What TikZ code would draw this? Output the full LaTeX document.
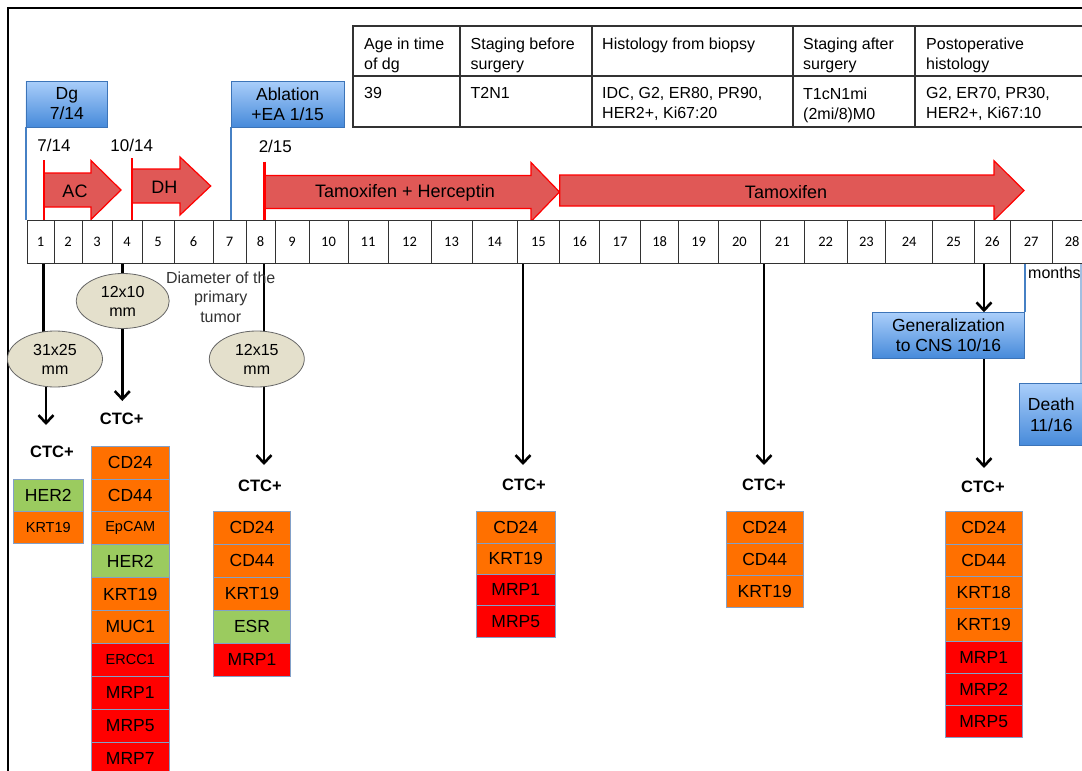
\documentclass[tikz,border=0pt]{standalone}
\usepackage{fontspec}
\setmainfont{Liberation Sans}
\newfontfamily\calib{Carlito}
\usetikzlibrary{arrows.meta,shapes.geometric}
\pgfdeclarelayer{bg}
\pgfdeclarelayer{conn}
\pgfsetlayers{bg,conn,main}
\definecolor{arrfill}{RGB}{224,88,86}
\definecolor{bluetop}{RGB}{170,206,250}
\definecolor{bluebot}{RGB}{70,138,218}
\definecolor{blueedge}{RGB}{60,116,184}
\definecolor{blueline}{RGB}{70,128,196}
\definecolor{cOr}{RGB}{255,112,0}
\definecolor{cGr}{RGB}{155,203,95}
\definecolor{cRd}{RGB}{255,0,0}
\definecolor{genebd}{RGB}{130,160,200}
\definecolor{ellfill}{RGB}{228,224,204}
\definecolor{gridc}{RGB}{50,50,50}
\newcommand\fsz[2]{\fontsize{#1}{#2}\selectfont}
\begin{document}
\begin{tikzpicture}[x=1pt,y=-1pt,
  bluebox/.style={draw=blueedge, line width=0.9pt, top color=bluetop, bottom color=bluebot, align=center, inner sep=0pt, font=\fsz{17.5}{20}},
  cell/.style={draw=gridc, line width=0.9pt, fill=white, minimum height=43, inner sep=0pt, font=\calib\fsz{14.5}{16}},
  gene/.style={draw=genebd, line width=0.8pt, inner sep=0pt},
  orng/.style={fill=cOr}, grn/.style={fill=cGr}, rd/.style={fill=cRd},
  gn/.style={font=\fsz{17.5}{20}}, gs/.style={font=\fsz{14.5}{17}},
  ell/.style={ellipse, draw=black!60, line width=0.8pt, fill=ellfill, minimum width=95, minimum height=56, inner sep=0pt, align=center, font=\fsz{16}{19}},
  ctc/.style={font=\bfseries\fsz{16.5}{19}},
  tabtxt/.style={anchor=north west, inner sep=0pt, align=left, font=\fsz{16}{20}},
  datetxt/.style={font=\fsz{17}{20}},
  redarr/.style={fill=arrfill, draw=red, line width=1.2pt, line join=miter},
  redtick/.style={draw=red, line width=2.5pt},
  arrtxt/.style={font=\fsz{18}{20}},
  conline/.style={line width=2.6pt, black},
  conarr/.style={line width=2.6pt, black, -{Straight Barb[length=8pt,width=15pt]}},
  bline/.style={draw=blueline, line width=2pt}
]
\useasboundingbox (0,0) rectangle (1082,771);
\clip (0,0) rectangle (1082,771);
\begin{pgfonlayer}{bg}
\fill[white] (0,0) rectangle (1082,771);
\end{pgfonlayer}

% frame
\draw[line width=2pt] (8,780) -- (8,8) -- (1090,8);

% table
\draw[gridc, line width=1.1pt] (353,26) rectangle (1095,127);
\draw[gridc, line width=1.1pt] (353,76) -- (1095,76);
\foreach \xx in {460,592,793,915} \draw[gridc, line width=1.1pt] (\xx,26) -- (\xx,127);
\node[tabtxt] (h1) at (364,37.5) {Age in time\\of dg};
\node[tabtxt] (h2) at (470.5,37.5) {Staging before\\surgery};
\node[tabtxt] (h3) at (602,37.5) {Histology from biopsy};
\node[tabtxt] (h4) at (803,37.5) {Staging after\\surgery};
\node[tabtxt] (h5) at (926,37.5) {Postoperative\\histology};
\node[tabtxt] (v1) at (364,87.5) {39};
\node[tabtxt] (v2) at (470.5,87.5) {T2N1};
\node[tabtxt] (v3) at (602,87.5) {IDC, G2, ER80, PR90,\\HER2+, Ki67:20};
\node[tabtxt] (v4) at (803,87.5) {T1cN1mi\\(2mi/8)M0};
\node[tabtxt] (v5) at (926,87.5) {G2, ER70, PR30,\\HER2+, Ki67:10};

% blue event boxes
\node[bluebox, minimum width=81.7, minimum height=46] (dg) at (66.8,104) {Dg\\7/14};
\node[bluebox, minimum width=113.3, minimum height=46] (abl) at (287.7,104) {Ablation\\+EA 1/15};
\node[bluebox, minimum width=151.6, minimum height=45.6] (gen) at (948.5,335.5) {Generalization\\to CNS 10/16};
\node[bluebox, minimum width=64, minimum height=62.4, font=\fsz{17.5}{21}] (death) at (1051.3,414.5) {Death\\11/16};

% dates
\node[datetxt] (d1) at (54,145) {7/14};
\node[datetxt] (d2) at (131.7,145) {10/14};
\node[datetxt] (d3) at (275.3,146) {2/15};

% treatment arrows
\filldraw[redarr] (44,173) -- (91,173) -- (91,160.5) -- (121,190) -- (91,219.5) -- (91,207) -- (44,207) -- cycle;
\draw[redtick] (44,160) -- (44,220);
\node[arrtxt] (tac) at (75,191) {AC};
\filldraw[redarr] (132,169) -- (180,169) -- (180,157) -- (210.7,186) -- (180,215) -- (180,203) -- (132,203) -- cycle;
\draw[redtick] (132,158) -- (132,220);
\node[arrtxt] (tdh) at (164.3,187.5) {DH};
\filldraw[redarr] (264.3,175.5) -- (531,175.5) -- (531,162.5) -- (559.5,192) -- (531,221.5) -- (531,208.5) -- (264.3,208.5) -- cycle;
\draw[redtick] (264.3,161.5) -- (264.3,221);
\node[arrtxt] (tth) at (405,193) {Tamoxifen + Herceptin};
\filldraw[redarr] (559.7,175) -- (994,175) -- (994,160.7) -- (1024,190.5) -- (994,220.3) -- (994,206) -- (559.7,206) -- cycle;
\node[arrtxt] (ttam) at (786,192) {Tamoxifen};

% timeline
\foreach \l/\r [count=\i] in {27/54,54/82,82/112,112/142,142/174,174/213,213/246,246/275,275/309,309/348,348/388,388/431,431/472,472/517,517/559.7,559.7/599.5,599.5/640.6,640.6/678.6,678.6/718.7,718.7/760.2,760.2/804.4,804.4/847,847/885.7,885.7/932.7,932.7/974.5,974.5/1010,1010/1052.3,1052.3/1092}
  \node[cell, minimum width={\r-\l}] (c\i) at ({(\l+\r)/2},241.5) {\i};

\node[anchor=west, inner sep=0pt, font=\fsz{16}{19}] (months) at (1028,273) {months};

% diameter label
\node[align=center, text=black!80, font=\fsz{16}{19.7}] (diam) at (220.7,297) {Diameter of the\\primary\\tumor};

% ellipses
\node[ell] (e1) at (55,359) {31x25\\mm};
\node[ell, minimum width=93, minimum height=55] (e2) at (122.7,301) {12x10\\mm};
\node[ell] (e3) at (256.8,359) {12x15\\mm};

% CTC labels
\node[ctc] (ctcA) at (52,452) {CTC+};
\node[ctc] (ctcB) at (121.7,419.3) {CTC+};
\node[ctc] (ctcC) at (260,486) {CTC+};
\node[ctc] (ctcD) at (524,485) {CTC+};
\node[ctc] (ctcE) at (764,485) {CTC+};
\node[ctc] (ctcF) at (983,487) {CTC+};

% gene boxes
\foreach \c/\s/\t [count=\i] in {grn/gn/HER2, orng/gs/KRT19}
  \node[gene,\c,\s,minimum width=70,minimum height=32.2] (gA\i) at (48.3,{479.3+(\i-0.5)*32.2}) {\t};
\foreach \c/\s/\t [count=\i] in {orng/gn/CD24, orng/gn/CD44, orng/gs/EpCAM, grn/gn/HER2, orng/gn/KRT19, orng/gn/MUC1, rd/gs/ERCC1, rd/gn/MRP1, rd/gn/MRP5, rd/gn/MRP7}
  \node[gene,\c,\s,minimum width=77.3,minimum height=32.9] (gB\i) at (130.3,{446+(\i-0.5)*32.9}) {\t};
\foreach \c/\s/\t [count=\i] in {orng/gn/CD24, orng/gn/CD44, orng/gn/KRT19, grn/gn/ESR, rd/gn/MRP1}
  \node[gene,\c,\s,minimum width=77.4,minimum height=33.1] (gC\i) at (252,{511+(\i-0.5)*33.1}) {\t};
\foreach \c/\s/\t [count=\i] in {orng/gn/CD24, orng/gn/KRT19, rd/gn/MRP1, rd/gn/MRP5}
  \node[gene,\c,\s,minimum width=78.3,minimum height=31.3] (gD\i) at (515.8,{511.7+(\i-0.5)*31.3}) {\t};
\foreach \c/\s/\t [count=\i] in {orng/gn/CD24, orng/gn/CD44, orng/gn/KRT19}
  \node[gene,\c,\s,minimum width=77.3,minimum height=31.9] (gE\i) at (764.7,{511.7+(\i-0.5)*31.9}) {\t};
\foreach \c/\s/\t [count=\i] in {orng/gn/CD24, orng/gn/CD44, orng/gn/KRT18, orng/gn/KRT19, rd/gn/MRP1, rd/gn/MRP2, rd/gn/MRP5}
  \node[gene,\c,\s,minimum width=77.3,minimum height=32.3] (gF\i) at (983.7,{511.7+(\i-0.5)*32.3}) {\t};

% connector end points
\coordinate (dA) at (43.5,263);
\coordinate (dB) at (122.3,263);
\coordinate (dC) at (264,263);
\coordinate (dD) at (523,263);
\coordinate (dE) at (764,263);
\coordinate (dF) at (984,263);
\coordinate (dX) at (1081,263);
\coordinate (tA) at (46,425);
\coordinate (tB) at (122.3,401);
\coordinate (tC) at (264,465);
\coordinate (tD) at (523,465);
\coordinate (tE) at (764,465);
\coordinate (tF) at (984,468);

\begin{pgfonlayer}{conn}
\draw[conline] (dA) -- (dA |- e1.center);
\draw[conarr] (tA |- e1.center) -- (tA);
\draw[conarr] (dB) -- (tB);
\draw[conarr] (dC) -- (tC);
\draw[conarr] (dD) -- (tD);
\draw[conarr] (dE) -- (tE);
\draw[conarr] (dF) -- (dF |- gen.north);
\draw[conarr] (dF |- gen.south) -- (tF);
\draw[bline] (dg.south west) -- (dg.south west |- c1.north);
\draw[bline] (abl.south west) -- (abl.south west |- c7.north);
\draw[bline] (gen.north east) -- (gen.north east |- c27.south);
\draw[bline, draw=blueline!50] (dX) -- (dX |- death.north);
\end{pgfonlayer}
\end{tikzpicture}
\end{document}
